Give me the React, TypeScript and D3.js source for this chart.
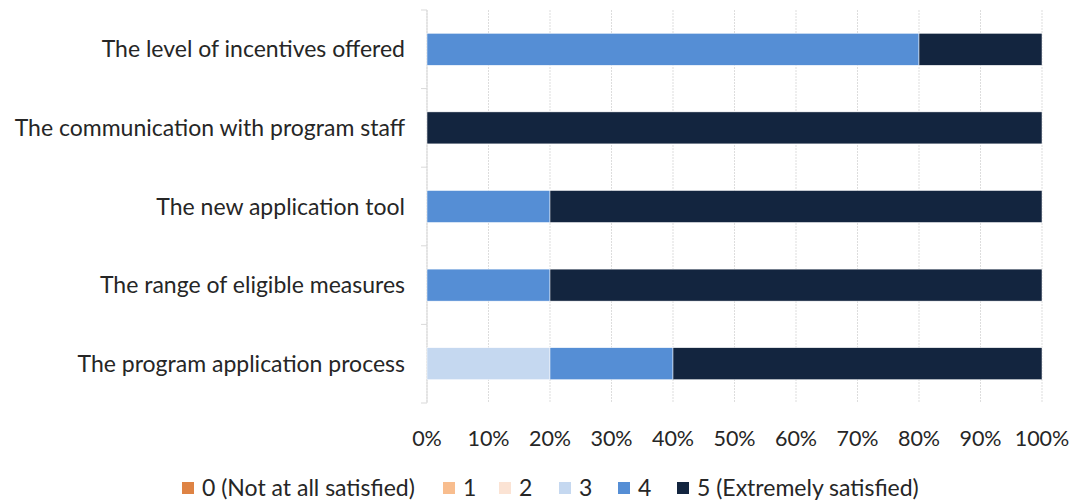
import React from "react";
import * as d3 from "d3";

const categories = [
  "The level of incentives offered",
  "The communication with program staff",
  "The new application tool",
  "The range of eligible measures",
  "The program application process",
];
const seriesNames = ["0 (Not at all satisfied)", "1", "2", "3", "4", "5 (Extremely satisfied)"];
const seriesColors = ["#DE8344", "#F8BD8E", "#FBE3D4", "#C5D8F0", "#558ED5", "#13253F"];
const s0 = [0, 0, 0, 0, 0];
const s1 = [0, 0, 0, 0, 0];
const s2 = [0, 0, 0, 0, 0];
const s3 = [0, 0, 0, 0, 20];
const s4 = [80, 0, 20, 20, 20];
const s5 = [20, 100, 80, 80, 60];
const xTicks = [0, 10, 20, 30, 40, 50, 60, 70, 80, 90, 100];
const legendTextX = [202, 463, 519, 579, 638, 697];

const W = 1073;
const H = 502;
const FONT = "Lato, Carlito, Calibri, sans-serif";

export default function App() {
  const series = [s0, s1, s2, s3, s4, s5];
  const x = d3.scaleLinear().domain([0, 100]).range([427, 1042]);
  const yBand = d3.scaleBand<string>().domain(categories).range([10, 403]).paddingInner(0).paddingOuter(0);
  const barH = 32;
  const rows = categories.map((c, i) => {
    const vals = series.map((s) => s[i]);
    const cum = d3.cumsum(vals);
    return { c, segs: vals.map((v, k) => ({ k, x0: cum[k] - v, x1: cum[k], v })) };
  });
  const boundaries = [...categories.map((c) => yBand(c) as number), 403];

  return (
    <svg width={W} height={H} style={{ position: "absolute", left: 0, top: 0, background: "#fff" }} fontFamily={FONT}>
      {xTicks.map((t) => (
        <line key={"g" + t} x1={x(t)} x2={x(t)} y1={10} y2={403} stroke="#DDDDDD" strokeWidth={1} strokeDasharray="2,1" />
      ))}
      <line x1={x(0)} x2={x(0)} y1={10} y2={403} stroke="#D9D9D9" strokeWidth={1} />
      {boundaries.map((b, i) => (
        <line key={"t" + i} x1={x(0) - 6} x2={x(0)} y1={b} y2={b} stroke="#D9D9D9" strokeWidth={1} />
      ))}
      {rows.map((r) => {
        const cy = (yBand(r.c) as number) + yBand.bandwidth() / 2;
        return (
          <g key={r.c}>
            {r.segs.filter((s) => s.v > 0).map((s) => (
              <rect key={s.k} x={x(s.x0)} y={cy - barH / 2} width={x(s.x1) - x(s.x0)} height={barH} fill={seriesColors[s.k]} stroke="#fff" strokeWidth={0.5} />
            ))}
            <text x={405} y={cy} dy="0.35em" textAnchor="end" fontSize={23} fill="#262626">{r.c}</text>
          </g>
        );
      })}
      {xTicks.map((t) => (
        <text key={"l" + t} x={x(t)} y={438} dy="0.35em" textAnchor="middle" fontSize={21.5} fill="#262626">{t + "%"}</text>
      ))}
      {seriesNames.map((n, k) => (
        <g key={n}>
          <rect x={legendTextX[k] - 20} y={482} width={12} height={12} fill={seriesColors[k]} />
          <text x={legendTextX[k]} y={488} dy="0.35em" fontSize={23} fill="#262626">{n}</text>
        </g>
      ))}
    </svg>
  );
}
